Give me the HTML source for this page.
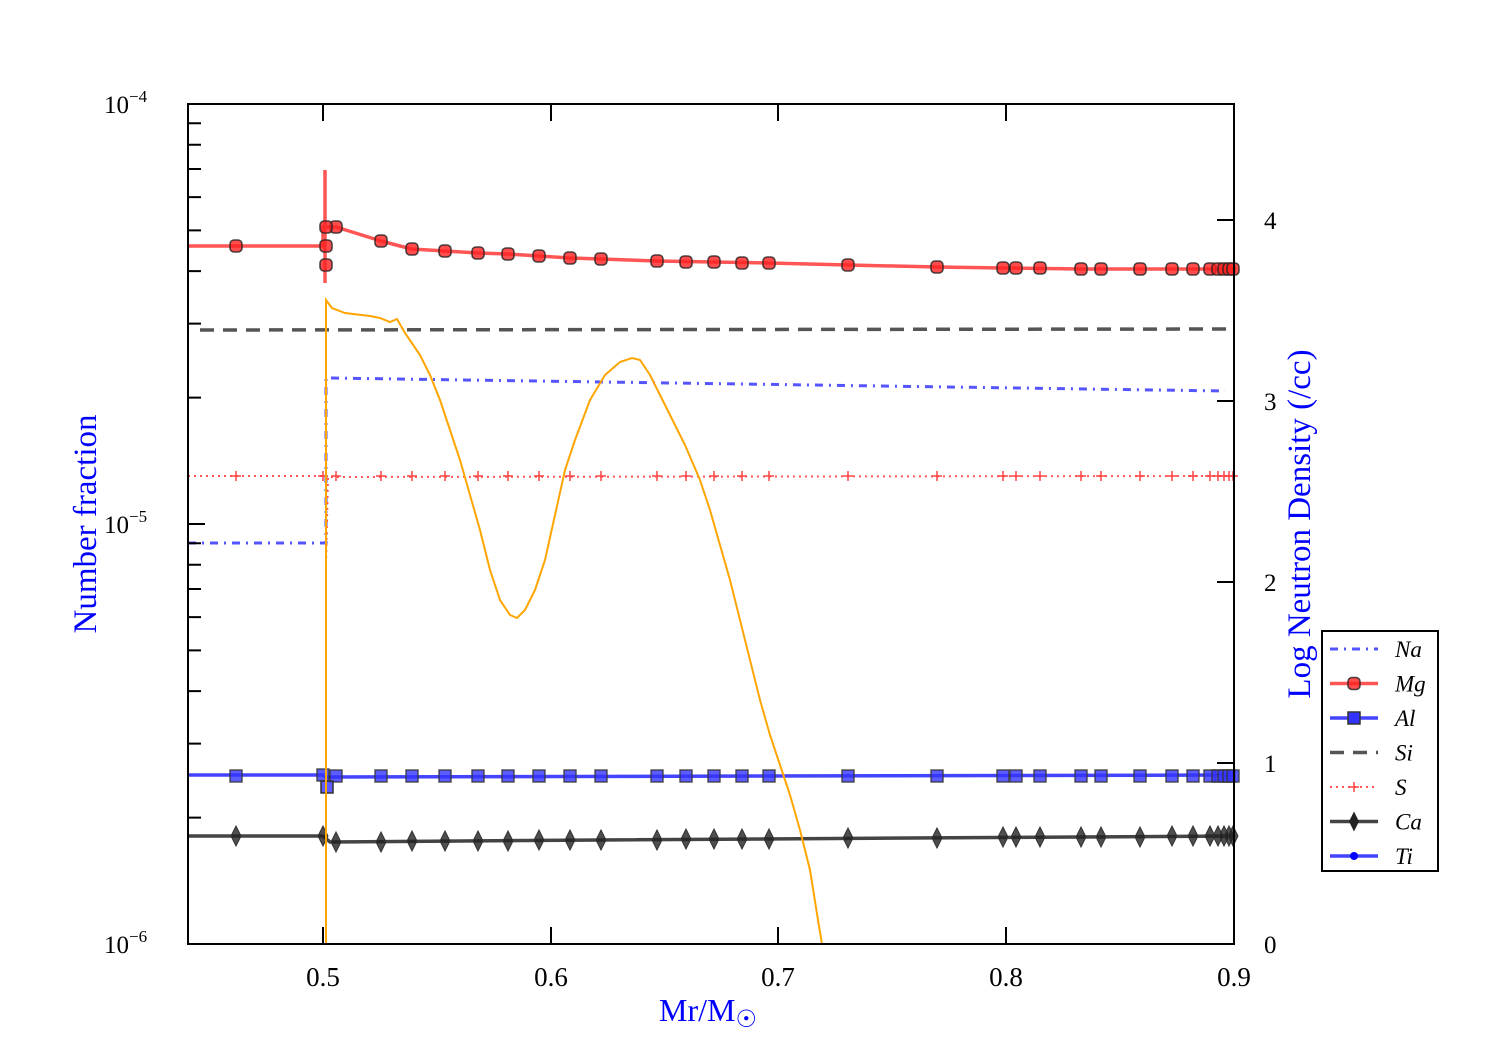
<!DOCTYPE html><html><head><style>body{margin:0;background:#fff}svg{display:block}text{font-family:"Liberation Serif",serif}</style></head><body>
<svg id="s" width="1500" height="1050" xmlns="http://www.w3.org/2000/svg"></svg>
<script>
const s=document.getElementById('s');let h='';
const X=[236,323,336,381,412,445,478,508,539,570,601,657,686,714,742,769,848,937,1003,1016,1040,1081,1101,1140,1172,1193,1210,1218,1224,1229,1233];
function pl(pts,st){return `<polyline fill="none" points="${pts.map(p=>p.join(',')).join(' ')}" ${st}/>`;}
function interp(tab,x){for(let i=0;i<tab.length-1;i++){if(x>=tab[i][0]&&x<=tab[i+1][0]){const t=(x-tab[i][0])/(tab[i+1][0]-tab[i][0]);return tab[i][1]+t*(tab[i+1][1]-tab[i][1]);}}return tab[tab.length-1][1];}
h+=`<line x1="200" y1="330" x2="1234" y2="329" stroke="#555" stroke-width="3.5" stroke-dasharray="14,9"/>`;
h+=`<polyline fill="none" points="188,543 326,543 326,378 328,378 1225,391" stroke="#5555ff" stroke-width="3" stroke-dasharray="8,6,2,6"/>`;
h+=`<polyline fill="none" points="188,476 326,476 326,565 328,477 1234,476" stroke="#ff5555" stroke-width="2" stroke-dasharray="2,4"/>`;
X.forEach(x=>{h+=`<path d="M${x-5},476h10M${x},471v10" stroke="#ff4444" stroke-width="1.5"/>`});
const mg=[[188,246],[323,246],[323,227],[336,227],[381,241],[400,246],[412,249],[445,251],[478,253],[508,254],[539,256],[570,258],[601,259],[657,261],[714,262],[769,263],[848,265],[937,267],[1003,268],[1081,269],[1234,269]];
h+=pl(mg,'stroke="#ff5555" stroke-width="3.5"');
h+=`<line x1="325" y1="170" x2="325" y2="283" stroke="#ff5555" stroke-width="3.5"/>`;
const mk=(x,y)=>`<rect x="${x-6}" y="${y-6}" width="12" height="12" rx="4" fill="#ff2020" fill-opacity=".8" stroke="#222" stroke-opacity=".8" stroke-width="1.6"/>`;
X.forEach(x=>{h+=mk(x==323?326:x,x==323?246:Math.round(interp(mg,x)))});
h+=mk(326,227)+mk(326,265);
h+=pl([[188,775],[323,775],[326,777],[1234,775]],'stroke="#4444ff" stroke-width="3.5"');
X.forEach(x=>{h+=`<rect x="${x-6}" y="${(x==323?775:776)-6}" width="12" height="12" fill="#3333ff" fill-opacity=".8" stroke="#333" stroke-opacity=".8" stroke-width="1.5"/>`});
h+=`<rect x="321" y="781" width="12" height="12" fill="#3333ff" fill-opacity=".8" stroke="#333" stroke-width="1.5"/>`;
const ca=[[188,836],[323,836],[330,842],[600,840],[1234,836]];
h+=pl(ca,'stroke="#444" stroke-width="3.5"');
X.forEach(x=>{const y=Math.round(interp(ca,x));h+=`<path d="M${x},${y-10}L${x+5},${y}L${x},${y+10}L${x-5},${y}Z" fill="#222" fill-opacity=".8" stroke="#333" stroke-width="1"/>`});
const o=[[326,944],[326,300],[332,308],[345,313],[370,316],[380,318],[390,322],[397,319],[405,333],[420,355],[430,375],[440,400],[450,430],[460,460],[470,495],[480,530],[490,570],[500,600],[510,615],[517,618],[525,610],[535,590],[545,560],[555,515],[565,470],[575,440],[590,400],[605,375],[620,362],[632,358],[640,360],[650,375],[660,395],[670,415],[685,445],[700,480],[710,510],[720,545],[730,580],[740,620],[750,660],[760,700],[770,735],[780,765],[790,795],[800,830],[810,870],[818,920],[822,944]];
h+=pl(o,'stroke="#ffa500" stroke-width="2"');
h+=`<rect x="188" y="104" width="1046" height="840" fill="none" stroke="#000" stroke-width="2"/>`;
let t='';
for(let d=0;d<2;d++){const base=944-d*420;for(let k=2;k<=9;k++){const y=base-420*Math.log10(k);t+=`M188,${y}h13`;}}
[104,524,944].forEach(y=>t+=`M188,${y}h17`);
[220,401,582,763].forEach(y=>t+=`M1234,${y}h-17`);
[323,551,778,1006,1234].forEach(x=>t+=`M${x},944v-17M${x},104v17`);
h+=`<path d="${t}" stroke="#000" stroke-width="2"/>`;
[[323,'0.5'],[551,'0.6'],[778,'0.7'],[1006,'0.8'],[1234,'0.9']].forEach(([x,l])=>h+=`<text x="${x}" y="986" font-size="27" text-anchor="middle">${l}</text>`);
[[104,'−4'],[524,'−5'],[944,'−6']].forEach(([y,e])=>h+=`<text x="104" y="${y+9}" font-size="25">10<tspan font-size="17" dy="-11">${e}</tspan></text>`);
[[944,'0'],[763,'1'],[582,'2'],[401,'3'],[220,'4']].forEach(([y,l])=>h+=`<text x="1264" y="${y+9}" font-size="25">${l}</text>`);
h+=`<text x="708" y="1021" font-size="32" fill="#0000ff" text-anchor="middle">Mr/M<tspan font-size="24" dy="6">☉</tspan></text>`;
h+=`<text transform="translate(96,524) rotate(-90)" font-size="33" fill="#0000ff" text-anchor="middle">Number fraction</text>`;
h+=`<text transform="translate(1310,524) rotate(-90)" font-size="33" fill="#0000ff" text-anchor="middle">Log Neutron Density (/cc)</text>`;
h+=`<rect x="1322" y="631" width="116" height="240" fill="#fff" stroke="#000" stroke-width="2"/>`;
const L=['Na','Mg','Al','Si','S','Ca','Ti'];
L.forEach((n,i)=>{const y=649+i*34.5;
 h+=`<text x="1395" y="${y+8}" font-size="23" font-style="italic">${n}</text>`;
 if(i==0)h+=`<line x1="1330" y1="${y}" x2="1378" y2="${y}" stroke="#5555ff" stroke-width="3" stroke-dasharray="8,6,2,6"/>`;
 if(i==1)h+=`<line x1="1330" y1="${y}" x2="1378" y2="${y}" stroke="#ff5555" stroke-width="3.5"/>`+mk(1354,y);
 if(i==2)h+=`<line x1="1330" y1="${y}" x2="1378" y2="${y}" stroke="#4444ff" stroke-width="3.5"/><rect x="1348" y="${y-6}" width="12" height="12" fill="#3333ff" stroke="#333" stroke-width="1.5"/>`;
 if(i==3)h+=`<line x1="1330" y1="${y}" x2="1378" y2="${y}" stroke="#555" stroke-width="3.5" stroke-dasharray="14,9"/>`;
 if(i==4)h+=`<line x1="1330" y1="${y}" x2="1378" y2="${y}" stroke="#ff5555" stroke-width="2" stroke-dasharray="2,4"/><path d="M1349,${y}h10M1354,${y-5}v10" stroke="#f44" stroke-width="1.5"/>`;
 if(i==5)h+=`<line x1="1330" y1="${y}" x2="1378" y2="${y}" stroke="#444" stroke-width="3.5"/><path d="M1354,${y-10}L1359,${y}L1354,${y+10}L1349,${y}Z" fill="#222"/>`;
 if(i==6)h+=`<line x1="1330" y1="${y}" x2="1378" y2="${y}" stroke="#4444ff" stroke-width="3.5"/><circle cx="1354" cy="${y}" r="4" fill="#0000ff"/>`;
});
s.innerHTML=h;
</script></body></html>
